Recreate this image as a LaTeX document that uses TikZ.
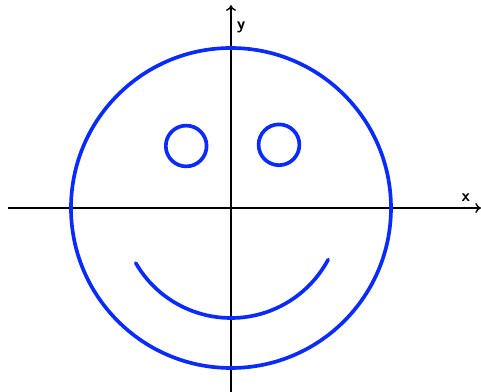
\documentclass[tikz,border=0pt]{standalone}
\usepackage{tikz}
\usetikzlibrary{arrows.meta, positioning}
\definecolor{FaceBlue}{HTML}{0A2BFF}
\tikzset{
  face/.style={draw=FaceBlue, line width=2.6pt},
  axis/.style={-{To[length=4pt,width=7pt]}, line width=1pt, color=black},
  axislabel/.style={font=\sffamily\bfseries\large, inner sep=1pt},
}
\begin{document}
\begin{tikzpicture}[x=40pt/1.41,y=40pt/1.41]
  \useasboundingbox (-5.775,-4.6) rectangle (6.25,5.2);

  % Axes
  \coordinate (xmin) at (-5.575,0);
  \coordinate (xmax) at (6.25,0);
  \coordinate (ymin) at (0,-4.6);
  \coordinate (ymax) at (0,5.07);
  \draw[axis] (xmin) -- (xmax);
  \draw[axis] (ymin) -- (ymax);
  \node[axislabel] (xlab) at (5.87,0.27) {x};
  \node[axislabel] (ylab) at (0.25,4.52) {y};

  % Head
  \draw[face] (0,0) circle (4);

  % Eyes
  \draw[face] (-1.12,1.55) circle (0.51);
  \draw[face] (1.2,1.58) circle (0.51);

  % Mouth
  \draw[face, line cap=round] (210:2.75) arc (210:332:2.75);

\end{tikzpicture}
\end{document}
